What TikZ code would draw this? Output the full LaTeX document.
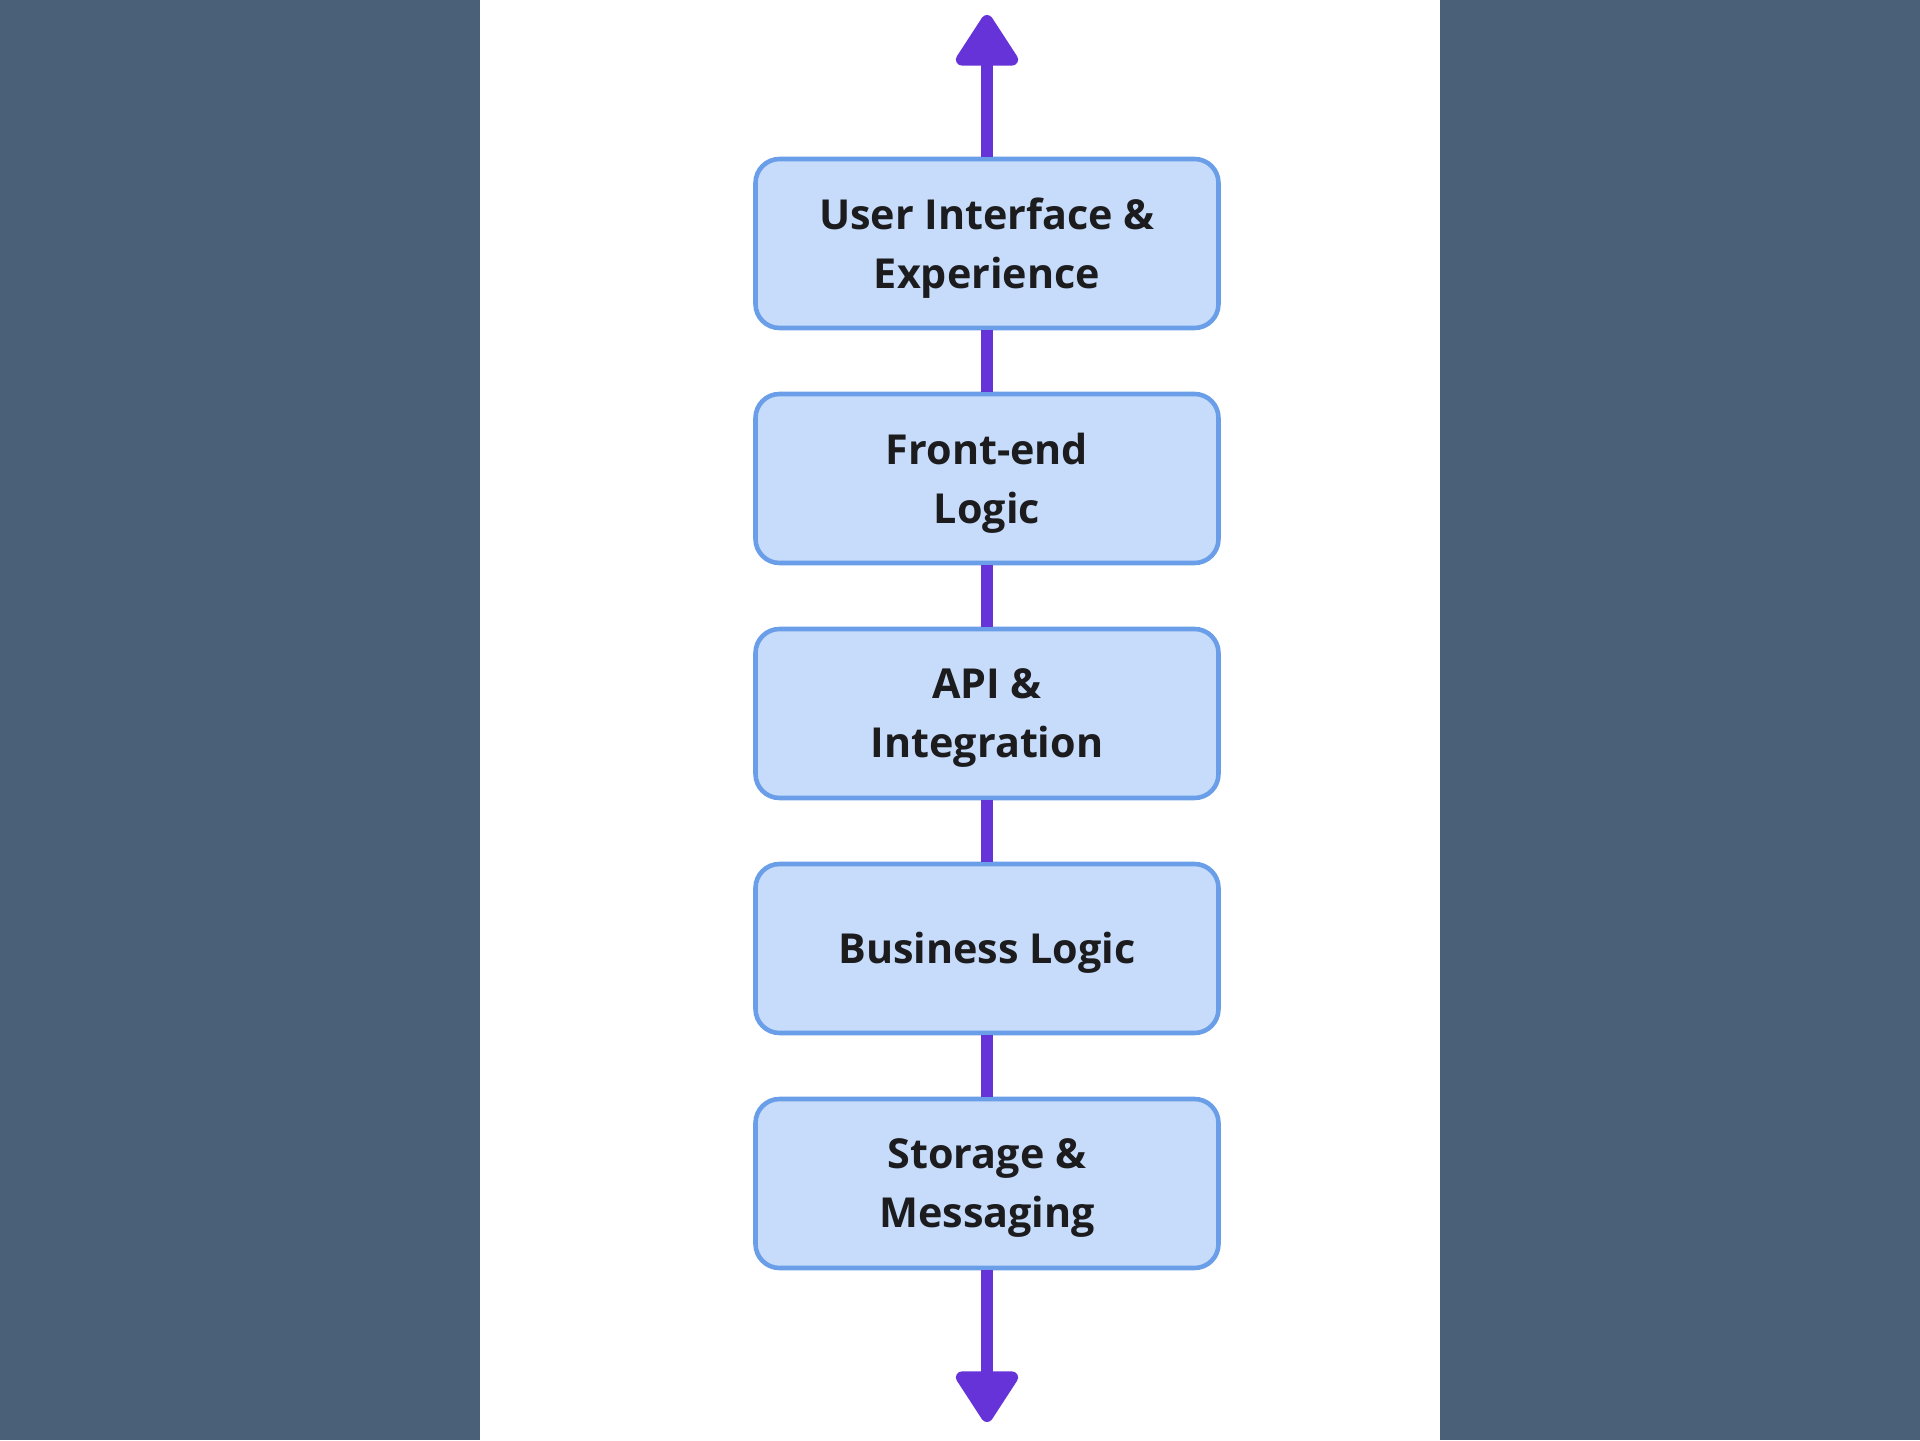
\documentclass[tikz,border=0pt]{standalone}
\usepackage{fontspec}
\setmainfont{Open Sans}
\usetikzlibrary{arrows.meta}
\tikzset {>={Triangle[round,length=5.6mm,width=6.9mm]}}
\definecolor{bandgray}{HTML}{4A5F78}
\definecolor{layerfill}{HTML}{C6DCFA}
\definecolor{layerdraw}{HTML}{6A9EE8}
\definecolor{stackline}{HTML}{6633D9}
\definecolor{labeltext}{HTML}{1C1C1E}
\tikzset{
  layer/.style={draw=layerdraw,fill=layerfill,line width=1.3pt,rounded corners=2.4mm,
    minimum width=4.63cm,minimum height=1.69cm},
  layertext/.style={align=center,inner sep=0pt,
    font=\bfseries\fontsize{11.75}{16.8}\selectfont,text=labeltext},
  stack/.style={draw=stackline,line width=3.4pt}
}

\begin{document}
\begin{tikzpicture}
\useasboundingbox (0,0) rectangle (19.2,14.4);
\fill[bandgray] (0,0) rectangle (4.8,14.4);
\fill[bandgray] (14.4,0) rectangle (19.2,14.4);
\coordinate (top) at (9.87,14.25);
\coordinate (bot) at (9.87,0.18);
\foreach \i/\name/\txt in {0/ui/{User Interface \&\\Experience},1/fe/{Front-end\\Logic},
  2/api/{API \&\\Integration},3/biz/{Business Logic},4/store/{Storage \&\\Messaging}} {
  \node[layer] (\name) at (9.87,11.965-\i*2.35) {};
  \node[layertext] (\name-t) at ([yshift=-0.45mm]\name.center) {\txt};
}
\draw[stack,->] (ui.north) -- (top);
\draw[stack] (ui.south) -- (fe.north);
\draw[stack] (fe.south) -- (api.north);
\draw[stack] (api.south) -- (biz.north);
\draw[stack] (biz.south) -- (store.north);
\draw[stack,->] (store.south) -- (bot);
\end{tikzpicture}
\end{document}
